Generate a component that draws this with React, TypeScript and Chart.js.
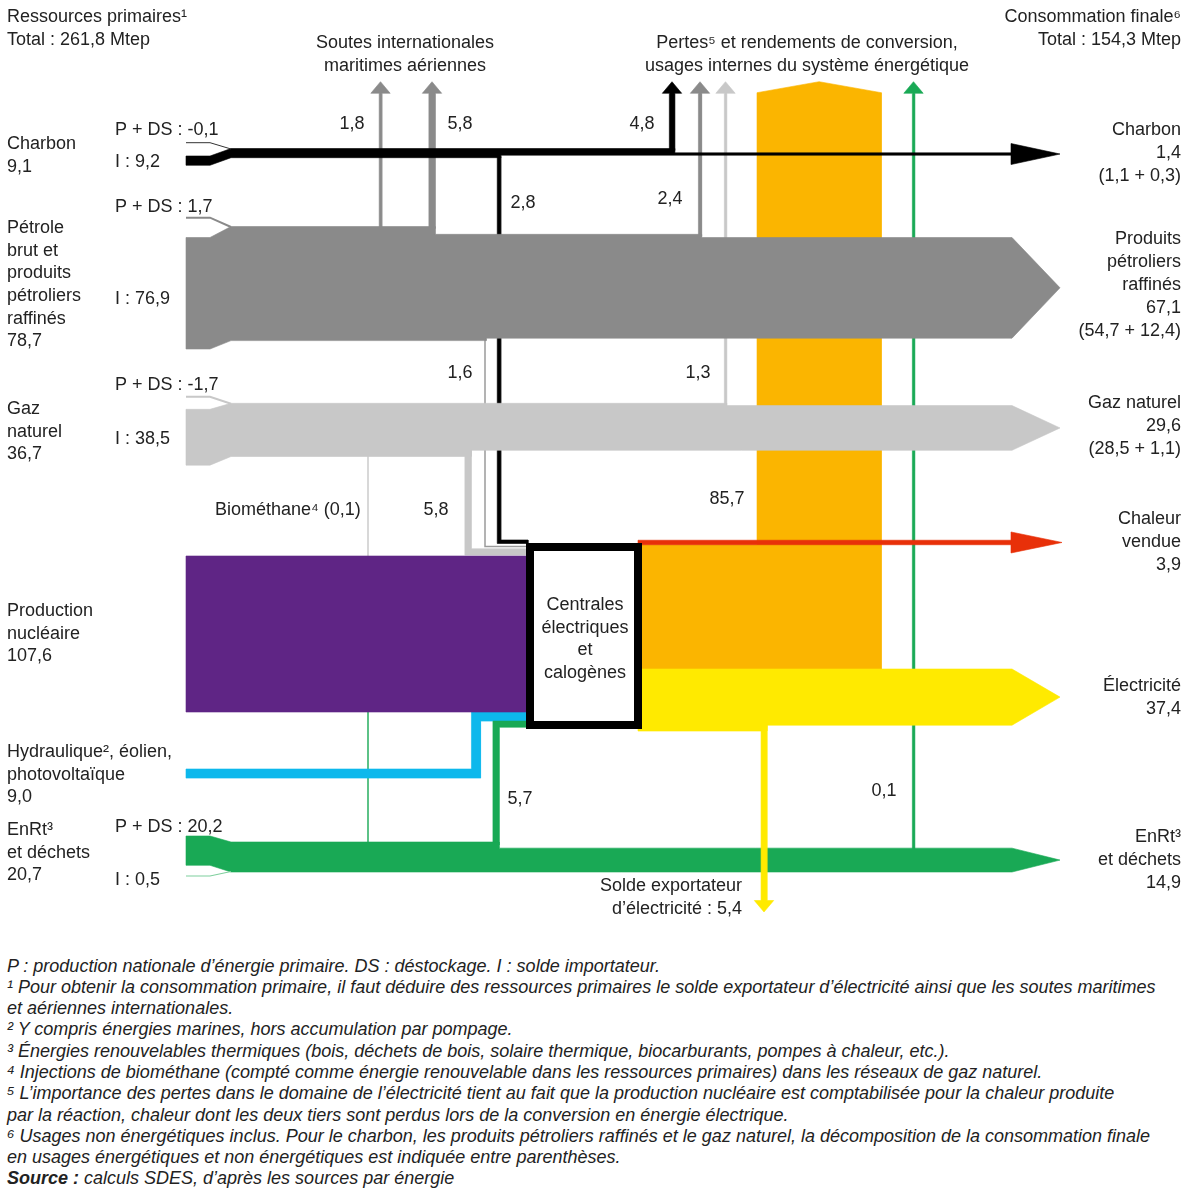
import React, { useEffect, useRef } from "react";
import { Chart, registerables } from "chart.js";

Chart.register(...registerables);

// ---------------- DATA (Mtep) ----------------
const primaryTotal = 261.8;
const finalTotal = 154.3;

const sourceLabelLines = [
  ["Charbon"],
  ["Pétrole", "brut et", "produits", "pétroliers", "raffinés"],
  ["Gaz", "naturel"],
  ["Production", "nucléaire"],
  ["Hydraulique², éolien,", "photovoltaïque"],
  ["EnRt³", "et déchets"],
];
const sourceTotals = [9.1, 78.7, 36.7, 107.6, 9.0, 20.7];
const sourceProdDestock = [-0.1, 1.7, -1.7, null, null, 20.2];
const sourceImports = [9.2, 76.9, 38.5, null, null, 0.5];

const bunkerValues = [1.8, 5.8]; // pétrole -> soutes internationales
// pertes : charbon, pétrole, gaz, centrales, EnRt
const lossValues = [4.8, 2.4, 1.3, 85.7, 0.1];
// entrées centrales : charbon, pétrole, gaz, nucléaire, hydraulique, EnRt
const plantInputValues = [2.8, 1.6, 5.8, 107.6, 9.0, 5.7];
const biomethaneValue = 0.1;
const exportValue = 5.4;

const finalLabelLines = [
  ["Charbon"],
  ["Produits", "pétroliers", "raffinés"],
  ["Gaz naturel"],
  ["Chaleur", "vendue"],
  ["Électricité"],
  ["EnRt³", "et déchets"],
];
const finalValues = [1.4, 67.1, 29.6, 3.9, 37.4, 14.9];
const finalSplits = ["(1,1 + 0,3)", "(54,7 + 12,4)", "(28,5 + 1,1)", "", "", ""];

const plantLabelLines = ["Centrales", "électriques", "et", "calogènes"];

const footnoteLines = [
  "P : production nationale d’énergie primaire. DS : déstockage. I : solde importateur.",
  "¹ Pour obtenir la consommation primaire, il faut déduire des ressources primaires le solde exportateur d’électricité ainsi que les soutes maritimes",
  "et aériennes internationales.",
  "² Y compris énergies marines, hors accumulation par pompage.",
  "³ Énergies renouvelables thermiques (bois, déchets de bois, solaire thermique, biocarburants, pompes à chaleur, etc.).",
  "⁴ Injections de biométhane (compté comme énergie renouvelable dans les ressources primaires) dans les réseaux de gaz naturel.",
  "⁵ L’importance des pertes dans le domaine de l’électricité tient au fait que la production nucléaire est comptabilisée pour la chaleur produite",
  "par la réaction, chaleur dont les deux tiers sont perdus lors de la conversion en énergie électrique.",
  "⁶ Usages non énergétiques inclus. Pour le charbon, les produits pétroliers raffinés et le gaz naturel, la décomposition de la consommation finale",
  "en usages énergétiques et non énergétiques est indiquée entre parenthèses.",
];

// ---------------- STYLE / LAYOUT ----------------
const W = 1200;
const H = 940;
const COL = {
  coal: "#000000",
  pet: "#8a8a8a",
  gas: "#c8c8c8",
  nuc: "#5f2585",
  hyd: "#0db8ec",
  enr: "#19a955",
  loss: "#fbb500",
  heat: "#e83009",
  elec: "#ffea00",
};
const TEXT = "#222222";
const FONT = '18px "Liberation Sans", Arial, sans-serif';
const TEXT_DY = 2;

const K = 1.45; // px per Mtep for large flows
const thick = (v: number) => (v >= 12 ? v * K : Math.max(2.3, 1 + 0.9 * v));
const fmt = (v: number) => v.toFixed(1).replace(".", ",");

const X_L = 186, X_S = 210, X_B = 231, X_AB = 1012, X_TIP = 1060;
const Y_TIP = 81.7, Y_BASE = 93.3, HEAD = 9.7;
const ROW_TOP = [148.5, 226.5, 403.3, 556, 769, 842];
const BLOCK_TOP = [156, 237.5, 409.3, 556, 769, 836];
const STUB_Y = [142.7, 217.7, 396.7, 0, 0, 876];
const X_BUNKER = [380.5, 432];
const X_LOSS = [672, 700, 725.5, 757, 913.5];
const X_IN = [499, 485, 468, 0, 476, 496];
const X_BIO = 368;
const X_EXPORT = 764;
const BOX = { x0: 526, x1: 642, y0: 543, y1: 729, bw: 8 };
const ELEC_TOP = 669;

// ---------------- GEOMETRY (from values) ----------------
const datasets: any[] = [];
const pt = (p: number[]) => ({ x: p[0], y: p[1] });
function poly(pts: number[][], color: string) {
  datasets.push({
    data: [...pts, pts[0]].map(pt),
    fill: "shape",
    backgroundColor: color,
    borderColor: color,
    borderWidth: 0.6,
    pointRadius: 0,
    showLine: true,
  });
}
function path(pts: number[][], color: string, width: number) {
  datasets.push({
    data: pts.map(pt),
    fill: false,
    borderColor: color,
    borderWidth: width,
    pointRadius: 0,
    showLine: true,
  });
}
function upArrow(xc: number, v: number, yFrom: number, color: string) {
  const h = thick(v) / 2;
  poly(
    [
      [xc - h, yFrom], [xc - h, Y_BASE], [xc - HEAD, Y_BASE], [xc, Y_TIP],
      [xc + HEAD, Y_BASE], [xc + h, Y_BASE], [xc + h, yFrom],
    ],
    color
  );
}

// coal
const coalTop = ROW_TOP[0];
const coalBot = coalTop + thick(sourceTotals[0]);
const coalBot2 = coalTop + thick(sourceTotals[0] - plantInputValues[0]);
const coalTop3 = coalBot2 - thick(finalValues[0]);
// petroleum
const pTop = ROW_TOP[1];
const pBot = pTop + thick(sourceTotals[1]);
const pTop2 = pTop + thick(bunkerValues[0] + bunkerValues[1]);
const pBot2 = pBot - thick(plantInputValues[1]);
const pTop3 = pTop2 + thick(lossValues[1]);
// gas
const gTop = ROW_TOP[2];
const gBot = gTop + thick(sourceTotals[2]);
const gBot2 = gBot - thick(plantInputValues[2]);
const gTop2 = gTop + thick(lossValues[2]);
// nuclear
const nTop = ROW_TOP[3];
const nBot = nTop + thick(plantInputValues[3]);
// hydro
const hTop = ROW_TOP[4];
const hBot = hTop + thick(plantInputValues[4]);
const hInBot = nBot + thick(plantInputValues[4]);
// EnRt
const eTop = ROW_TOP[5];
const eBot = eTop + thick(sourceTotals[5]);
const eTop2 = eTop + thick(plantInputValues[5]);
const eInBot = hInBot + thick(plantInputValues[5]);
// outputs
const yTop = ELEC_TOP;
const yBot = yTop + thick(finalValues[4] + exportValue);
const yBot2 = yBot - thick(exportValue);
const oTop = yTop - thick(lossValues[3]);
const oX1 = X_LOSS[3] + thick(lossValues[3]);
const rTop = oTop - thick(finalValues[3]);

// 1. losses (orange) of power plants
poly(
  [
    [BOX.x1 - 4, oTop], [X_LOSS[3], oTop], [X_LOSS[3], Y_BASE - 0.6],
    [(X_LOSS[3] + oX1) / 2, Y_TIP], [oX1, Y_BASE - 0.6], [oX1, yTop], [BOX.x1 - 4, yTop],
  ],
  COL.loss
);
// 2. upward arrows (bunkers + losses)
upArrow(X_BUNKER[0], bunkerValues[0], pTop + 2, COL.pet);
upArrow(X_BUNKER[1], bunkerValues[1], pTop + 2, COL.pet);
upArrow(X_LOSS[0], lossValues[0], coalTop + 2, COL.coal);
upArrow(X_LOSS[1], lossValues[1], pTop2 + 2, COL.pet);
upArrow(X_LOSS[2], lossValues[2], gTop + 2, COL.gas);
upArrow(X_LOSS[4], lossValues[4], eTop2 + 2, COL.enr);

// 3. downward connectors to the plants
{
  const h = thick(plantInputValues[0]) / 2;
  const hb = BOX.y0 + 0.5, ht = hb - thick(plantInputValues[0]);
  poly([[X_IN[0] - h, coalBot - 1], [X_IN[0] + h, coalBot - 1], [X_IN[0] + h, ht], [BOX.x0 + 2, ht], [BOX.x0 + 2, hb], [X_IN[0] - h, hb]], COL.coal);
}
path([[X_IN[1], pBot - 3], [X_IN[1], nTop - 9.5], [BOX.x0 + 2, nTop - 9.5]], "#9a9a9a", 1.5);
{
  const h = thick(plantInputValues[2]) / 2;
  const hb = nTop - 1, ht = hb - thick(plantInputValues[2]);
  poly([[X_IN[2] - h, gBot2 - 1], [X_IN[2] + h, gBot2 - 1], [X_IN[2] + h, ht], [BOX.x0 + 2, ht], [BOX.x0 + 2, hb], [X_IN[2] - h, hb]], COL.gas);
}
// biomethane (EnRt -> gaz)
path([[X_BIO, gBot - 1], [X_BIO, nTop + 2]], COL.gas, 1.3 + biomethaneValue);
path([[X_BIO, nBot - 2], [X_BIO, eTop + 1]], COL.enr, 1.3 + biomethaneValue);

// 4. upward connectors to the plants
{
  const h = thick(plantInputValues[4]) / 2;
  poly([[X_L, hTop], [X_IN[4] - h, hTop], [X_IN[4] - h, nBot], [BOX.x0 + 2, nBot], [BOX.x0 + 2, hInBot], [X_IN[4] + h, hInBot], [X_IN[4] + h, hBot], [X_L, hBot]], COL.hyd);
}
{
  const h = thick(plantInputValues[5]) / 2;
  poly([[X_IN[5] - h, eTop + 3], [X_IN[5] - h, hInBot], [BOX.x0 + 2, hInBot], [BOX.x0 + 2, eInBot], [X_IN[5] + h, eInBot], [X_IN[5] + h, eTop + 3]], COL.enr);
}

// 5. horizontal bands
// coal
{
  const r28 = X_IN[0] + thick(plantInputValues[0]) / 2;
  const r48 = X_LOSS[0] + thick(lossValues[0]) / 2;
  const b = BLOCK_TOP[0], bb = b + thick(sourceImports[0] as number);
  poly(
    [
      [X_L, b], [X_S, b], [X_B, coalTop], [r48, coalTop], [r48, coalTop3], [X_AB, coalTop3],
      [X_AB, coalBot2], [r28, coalBot2], [r28, coalBot], [X_B, coalBot], [X_S, bb], [X_L, bb],
    ],
    COL.coal
  );
  const mid = (coalTop3 + coalBot2) / 2;
  poly([[X_AB - 1, mid - 10.5], [X_TIP, mid], [X_AB - 1, mid + 10.5]], COL.coal);
  path([[X_L, STUB_Y[0]], [X_S, STUB_Y[0]], [X_B, coalTop + 0.5]], "#333333", 1);
}
// petroleum
{
  const rb = X_BUNKER[1] + thick(bunkerValues[1]) / 2;
  const r16 = X_IN[1] + thick(plantInputValues[1]) / 2;
  const r24 = X_LOSS[1] + thick(lossValues[1]) / 2;
  const b = BLOCK_TOP[1], bb = b + thick(sourceImports[1] as number);
  const mid = (pTop3 + pBot2) / 2;
  poly(
    [
      [X_L, b], [X_S, b], [X_B, pTop], [rb, pTop], [rb, pTop2], [r24, pTop2], [r24, pTop3],
      [X_AB, pTop3], [X_TIP, mid], [X_AB, pBot2], [r16, pBot2], [r16, pBot], [X_B, pBot], [X_S, bb], [X_L, bb],
    ],
    COL.pet
  );
  path([[X_L, STUB_Y[1]], [X_S, STUB_Y[1]], [X_B, pTop + 0.5]], COL.pet, 2);
}
// gas
{
  const r58 = X_IN[2] + thick(plantInputValues[2]) / 2;
  const r13 = X_LOSS[2] + thick(lossValues[2]) / 2;
  const b = BLOCK_TOP[2], bb = b + thick(sourceImports[2] as number);
  const mid = (gTop2 + gBot2) / 2;
  poly(
    [
      [X_L, b], [X_S, b], [X_B, gTop], [r13, gTop], [r13, gTop2], [X_AB, gTop2], [X_TIP, mid],
      [X_AB, gBot2], [r58, gBot2], [r58, gBot], [X_B, gBot], [X_S, bb], [X_L, bb],
    ],
    COL.gas
  );
  path([[X_L, STUB_Y[2]], [X_S, STUB_Y[2]], [X_B, gTop + 0.5]], COL.gas, 2);
}
// nuclear
poly([[X_L, nTop], [BOX.x0 + 2, nTop], [BOX.x0 + 2, nBot], [X_L, nBot]], COL.nuc);
// EnRt
{
  const r57 = X_IN[5] + thick(plantInputValues[5]) / 2;
  const b = BLOCK_TOP[5], bb = b + thick(sourceProdDestock[5] as number);
  const mid = (eTop2 + eBot) / 2;
  poly(
    [
      [X_L, b], [X_S, b], [X_B, eTop], [r57, eTop], [r57, eTop2], [X_AB, eTop2], [X_TIP, mid],
      [X_AB, eBot], [X_B, eBot], [X_S, bb], [X_L, bb],
    ],
    COL.enr
  );
  path([[X_L, STUB_Y[5]], [X_S, STUB_Y[5]], [X_B, eBot - 0.5]], "#7fcf9d", 1.2);
}
// heat sold
{
  poly([[BOX.x1 - 4, rTop], [X_AB, rTop], [X_AB, oTop], [BOX.x1 - 4, oTop]], COL.heat);
  const mid = (rTop + oTop) / 2;
  poly([[X_AB - 1, mid - 10.5], [X_TIP + 2, mid], [X_AB - 1, mid + 10.5]], COL.heat);
}
// electricity
{
  const rEx = X_EXPORT + thick(exportValue) / 2;
  const mid = (yTop + yBot2) / 2;
  poly([[BOX.x1 - 4, yTop], [X_AB, yTop], [X_TIP, mid], [X_AB, yBot2], [rEx, yBot2], [rEx, yBot], [BOX.x1 - 4, yBot]], COL.elec);
  const h = thick(exportValue) / 2;
  poly(
    [
      [X_EXPORT - h, yBot2 - 1], [X_EXPORT + h, yBot2 - 1], [X_EXPORT + h, 900.5], [X_EXPORT + HEAD, 900.5],
      [X_EXPORT, 912], [X_EXPORT - HEAD, 900.5], [X_EXPORT - h, 900.5],
    ],
    COL.elec
  );
}
// 6. power plant box
datasets.push({
  data: [
    [BOX.x0 + BOX.bw / 2, BOX.y0 + BOX.bw / 2], [BOX.x1 - BOX.bw / 2, BOX.y0 + BOX.bw / 2],
    [BOX.x1 - BOX.bw / 2, BOX.y1 - BOX.bw / 2], [BOX.x0 + BOX.bw / 2, BOX.y1 - BOX.bw / 2],
    [BOX.x0 + BOX.bw / 2, BOX.y0 + BOX.bw / 2],
  ].map(pt),
  fill: "shape",
  backgroundColor: "#ffffff",
  borderColor: "#000000",
  borderWidth: BOX.bw,
  borderJoinStyle: "miter",
  borderCapStyle: "square",
  pointRadius: 0,
  showLine: true,
});

// paint order: first pushed = bottom; Chart.js paints index 0 on top
const orderedDatasets = datasets.slice().reverse();

// ---------------- TEXTS ----------------
type T = { s: string; x: number; y: number; a: CanvasTextAlign };
const texts: T[] = [];
const LH = 22.7;
texts.push({ s: "Ressources primaires¹", x: 7, y: 15, a: "left" });
texts.push({ s: `Total : ${fmt(primaryTotal)} Mtep`, x: 7, y: 38, a: "left" });
texts.push({ s: "Soutes internationales", x: 405, y: 41, a: "center" });
texts.push({ s: "maritimes aériennes", x: 405, y: 64, a: "center" });
texts.push({ s: "Pertes⁵ et rendements de conversion,", x: 807, y: 41, a: "center" });
texts.push({ s: "usages internes du système énergétique", x: 807, y: 64, a: "center" });
texts.push({ s: "Consommation finale⁶", x: 1181, y: 15, a: "right" });
texts.push({ s: `Total : ${fmt(finalTotal)} Mtep`, x: 1181, y: 38, a: "right" });

const SRC_LABEL_Y = [142, 226, 407, 609, 750, 828];
sourceLabelLines.forEach((lines, i) => {
  [...lines, fmt(sourceTotals[i])].forEach((s, j) => texts.push({ s, x: 7, y: SRC_LABEL_Y[i] + j * LH, a: "left" }));
});
const PDS_Y = [128, 205, 383, 0, 0, 825];
const IMP_Y = [160, 297, 437, 0, 0, 878];
sourceProdDestock.forEach((v, i) => {
  if (v !== null) texts.push({ s: `P + DS : ${fmt(v)}`, x: 115, y: PDS_Y[i], a: "left" });
});
sourceImports.forEach((v, i) => {
  if (v !== null) texts.push({ s: `I : ${fmt(v)}`, x: 115, y: IMP_Y[i], a: "left" });
});
const FIN_LABEL_Y = [128, 237, 401, 517, 684, 835];
finalLabelLines.forEach((lines, i) => {
  const all = [...lines, fmt(finalValues[i])];
  if (finalSplits[i]) all.push(finalSplits[i]);
  all.forEach((s, j) => texts.push({ s, x: 1181, y: FIN_LABEL_Y[i] + j * 23, a: "right" }));
});
// flow values
const BUNKER_LBL = [[352, 122], [460, 122]];
bunkerValues.forEach((v, i) => texts.push({ s: fmt(v), x: BUNKER_LBL[i][0], y: BUNKER_LBL[i][1], a: "center" }));
const LOSS_LBL = [[642, 122], [670, 197], [698, 371], [727, 497], [884, 789]];
lossValues.forEach((v, i) => texts.push({ s: fmt(v), x: LOSS_LBL[i][0], y: LOSS_LBL[i][1], a: "center" }));
const IN_LBL = [[523, 201], [460, 371], [436, 508], null, null, [520, 797]];
plantInputValues.forEach((v, i) => {
  const p = IN_LBL[i];
  if (p) texts.push({ s: fmt(v), x: p[0], y: p[1], a: "center" });
});
texts.push({ s: `Biométhane⁴ (${fmt(biomethaneValue)})`, x: 215, y: 508, a: "left" });
texts.push({ s: "Solde exportateur", x: 742, y: 884, a: "right" });
texts.push({ s: `d’électricité : ${fmt(exportValue)}`, x: 742, y: 907, a: "right" });
plantLabelLines.forEach((s, j) => texts.push({ s, x: 585, y: 603 + j * LH, a: "center" }));

const textPlugin = {
  id: "sankeyTexts",
  afterDraw(chart: any) {
    const { ctx } = chart;
    const xs = chart.scales.x;
    const ys = chart.scales.y;
    ctx.save();
    ctx.fillStyle = TEXT;
    ctx.font = FONT;
    ctx.textBaseline = "middle";
    for (const t of texts) {
      ctx.textAlign = t.a;
      ctx.fillText(t.s, xs.getPixelForValue(t.x), ys.getPixelForValue(t.y + TEXT_DY));
    }
    ctx.restore();
  },
};

export default function App() {
  const ref = useRef<HTMLCanvasElement>(null);
  useEffect(() => {
    if (!ref.current) return;
    const chart = new Chart(ref.current, {
      type: "line",
      data: { datasets: orderedDatasets },
      options: {
        responsive: false,
        animation: false,
        events: [],
        layout: { padding: 0 },
        elements: { line: { tension: 0 }, point: { radius: 0 } },
        scales: {
          x: { type: "linear", min: 0, max: W, display: false },
          y: { type: "linear", min: 0, max: H, reverse: true, display: false },
        },
        plugins: { legend: { display: false }, tooltip: { enabled: false } },
      } as any,
      plugins: [textPlugin],
    });
    return () => chart.destroy();
  }, []);
  return (
    <div style={{ position: "absolute", left: 0, top: 0, width: 1200, height: 1194, background: "#ffffff" }}>
      <canvas ref={ref} width={W} height={H} style={{ position: "absolute", left: 0, top: 0, width: W, height: H }} />
      <div
        style={{
          position: "absolute",
          left: 7,
          top: 955.5,
          font: 'italic 18px "Liberation Sans", Arial, sans-serif',
          lineHeight: "21.3px",
          color: TEXT,
          whiteSpace: "nowrap",
        }}
      >
        {footnoteLines.map((l, i) => (
          <div key={i}>{l}</div>
        ))}
        <div>
          <b>Source :</b> calculs SDES, d’après les sources par énergie
        </div>
      </div>
    </div>
  );
}
